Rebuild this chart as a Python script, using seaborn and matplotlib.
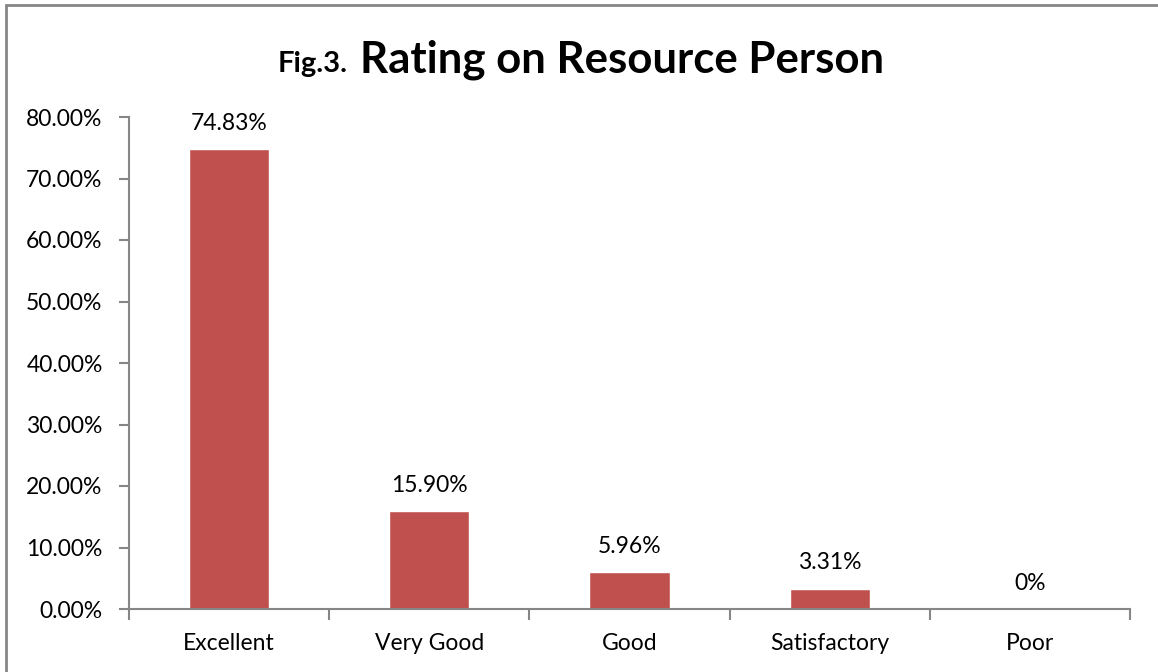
import matplotlib
matplotlib.use("Agg")
import matplotlib.pyplot as plt
from matplotlib.patches import Rectangle
from matplotlib.ticker import FuncFormatter, FixedLocator
import seaborn as sns
import pandas as pd

categories = ["Excellent", "Very Good", "Good", "Satisfactory", "Poor"]
values = [74.83, 15.90, 5.96, 3.31, 0.0]
labels = ["74.83%", "15.90%", "5.96%", "3.31%", "0%"]
yticks = [0, 10, 20, 30, 40, 50, 60, 70, 80]

sns.set_theme(style="white")
FONT = "Lato"
plt.rcParams["font.family"] = [FONT, "DejaVu Sans"]
FS = 16.5

fig = plt.figure(figsize=(11.58, 6.72), dpi=100)
ax = fig.add_axes([129 / 1158, 1 - 609 / 672, (1130 - 129) / 1158, (609 - 117) / 672])

df = pd.DataFrame({"cat": categories, "val": values})
sns.barplot(data=df, x="cat", y="val", color="#C0504D", saturation=1, width=0.4, ax=ax)

ax.set_ylim(0, 80)
ax.set_xlim(-0.5, len(categories) - 0.5)
ax.set_yticks(yticks)
ax.yaxis.set_major_formatter(FuncFormatter(lambda v, p: f"{v:.2f}%"))
ax.set_xlabel("")
ax.set_ylabel("")

spine_col = "#868686"
for s in ["top", "right"]:
    ax.spines[s].set_visible(False)
for s in ["left", "bottom"]:
    ax.spines[s].set_color(spine_col)
    ax.spines[s].set_linewidth(1.5)

ax.tick_params(axis="y", which="major", direction="out", length=7, width=1.5, color=spine_col,
               left=True, labelsize=FS, labelcolor="black", pad=12)
ax.xaxis.set_major_locator(FixedLocator(range(len(categories))))
ax.set_xticklabels(categories)
ax.tick_params(axis="x", which="major", length=0, labelsize=FS, labelcolor="black", pad=17)
ax.xaxis.set_minor_locator(FixedLocator([i - 0.5 for i in range(len(categories) + 1)]))
ax.tick_params(axis="x", which="minor", direction="out", length=8, width=1.5, color=spine_col, bottom=True)

for i, (v, lab) in enumerate(zip(values, labels)):
    ax.annotate(lab, xy=(i, v), xytext=(0, 11), textcoords="offset points",
                ha="center", va="bottom", fontsize=FS, color="black")

# Title
fig.text(278 / 1158, 1 - 72 / 672, "Fig.3.", fontsize=21, fontweight="bold",
         ha="left", va="baseline", color="black")
fig.text(360 / 1158, 1 - 72 / 672, "Rating on Resource Person", fontsize=31.5,
         fontweight="bold", ha="left", va="baseline", color="black")

# outer border
fig.patches.append(Rectangle((6 / 1158, -0.05), 1.2, 1 - 5 / 672 + 0.05, transform=fig.transFigure,
                             fill=False, edgecolor="#868686", linewidth=2))

fig.savefig("out.png", dpi=100, facecolor="white")
